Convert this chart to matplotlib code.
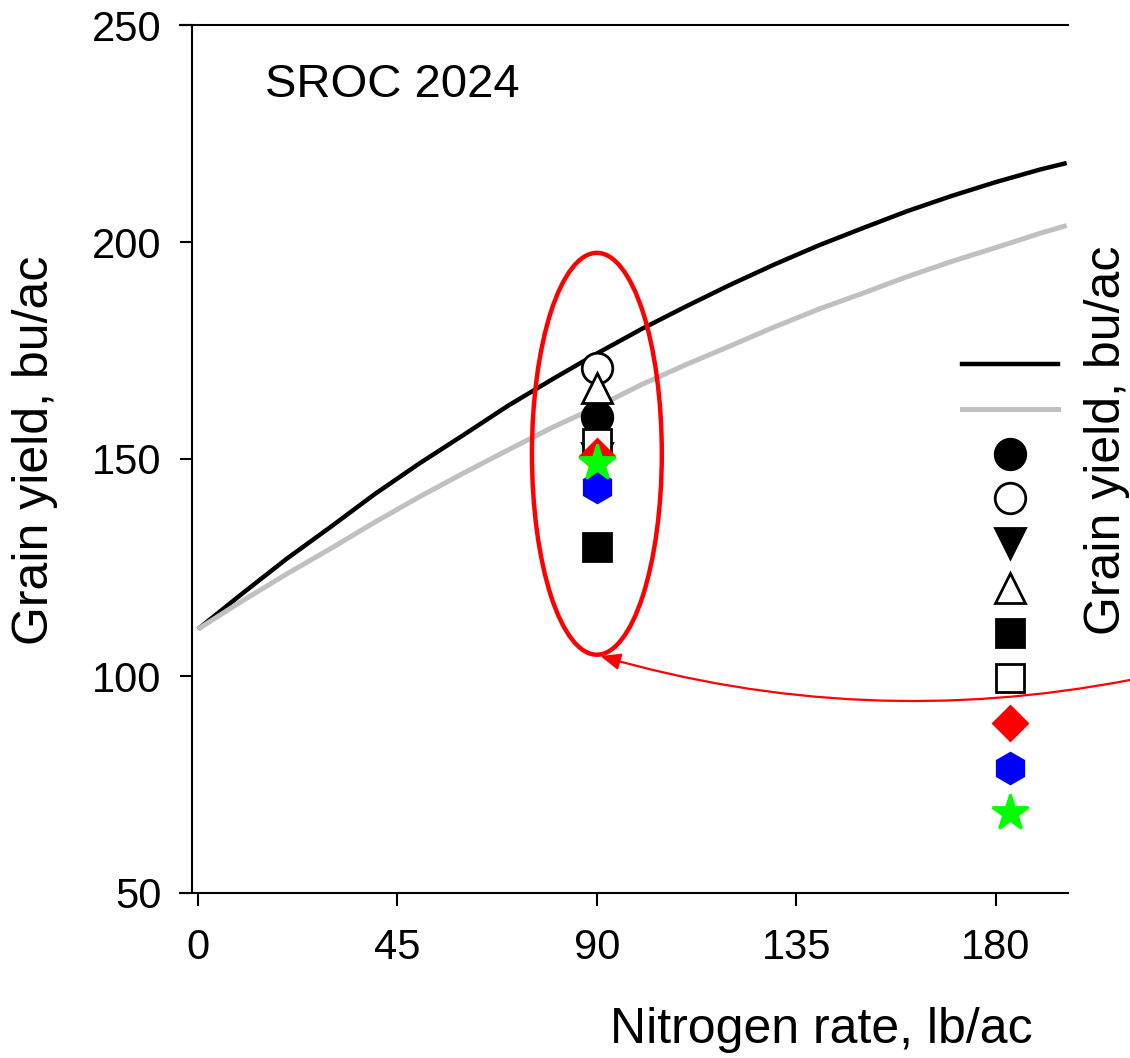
import matplotlib
matplotlib.use("Agg")
import matplotlib.pyplot as plt
from matplotlib.lines import Line2D
from matplotlib.patches import Ellipse

plt.rcParams['font.family'] = ['Liberation Sans', 'DejaVu Sans']

# --- Data ---
n_rate = [0, 10, 20, 30, 40, 50, 60, 70, 80, 90, 100, 110, 120, 130, 140, 150, 160, 170, 180, 190, 196]
yield_black = [110.8, 119.0, 127.0, 134.4, 142.0, 149.0, 155.6, 162.3, 168.4, 174.3, 179.9, 185.1,
               190.1, 194.8, 199.2, 203.2, 207.1, 210.6, 213.8, 216.7, 218.2]
yield_gray = [110.8, 117.3, 123.5, 129.4, 135.5, 141.3, 146.8, 152.1, 157.3, 162.0, 167.1, 171.7,
              176.0, 180.4, 184.5, 188.2, 192.0, 195.5, 198.7, 202.0, 203.8]

# treatment means at 90 lb N/ac
trt_n = 90
trt_yield = [159.7, 171.0, 150.2, 166.3, 129.7, 153.7, 150.6, 143.6, 149.0]
trt_marker = ['o', 'o', 'v', '^', 's', 's', 'D', 'h', '*']
trt_face = ['black', 'white', 'black', 'white', 'black', 'white', 'red', 'blue', 'lime']
trt_edge = ['black', 'black', 'black', 'black', 'black', 'black', 'red', 'blue', 'lime']
trt_size = [22, 22, 22, 22, 20, 20, 17, 22, 27]

x_ticks = [0, 45, 90, 135, 180]
y_ticks = [50, 100, 150, 200, 250]

fig = plt.figure(figsize=(11.3, 10.58), dpi=100)
ax = fig.add_axes([192 / 1130, 165 / 1058, 876 / 1130, 868 / 1058])

ax.plot(n_rate, yield_black, color='black', lw=3.2, solid_capstyle='butt')
ax.plot(n_rate, yield_gray, color='#c0c0c0', lw=3.6, solid_capstyle='butt')

handles = [Line2D([], [], color='black', lw=3.2),
           Line2D([], [], color='#c0c0c0', lw=3.6)]
for yv, m, fc, ec, ms in zip(trt_yield, trt_marker, trt_face, trt_edge, trt_size):
    ax.plot([trt_n], [yv], linestyle='none', marker=m, ms=ms, mfc=fc, mec=ec, mew=2)
    handles.append(Line2D([], [], linestyle='none', marker=m, ms=ms, mfc=fc, mec=ec, mew=2))

# red ellipse around the 90 lb cluster
ax.add_patch(Ellipse((90, 151.2), 29.3, 92.6, fill=False, edgecolor='red', lw=3.2, zorder=5))

# curved arrow from the right edge to the ellipse
ax.annotate('', xy=(90.8, 104.6), xycoords='data',
            xytext=(1.0, 378 / 1058), textcoords='figure fraction',
            arrowprops=dict(arrowstyle='-|>,head_length=0.6,head_width=0.25', color='red', lw=1.6,
                            connectionstyle='arc3,rad=-0.12', shrinkA=0, shrinkB=0,
                            mutation_scale=20),
            annotation_clip=False)

ax.set_xlim(-1.35, 196.3)
ax.set_ylim(50, 250)
ax.set_xticks(x_ticks)
ax.set_yticks(y_ticks)
ax.tick_params(axis='both', direction='out', length=9, width=1.5, labelsize=30)
ax.tick_params(axis='x', pad=16)
ax.tick_params(axis='y', pad=13)
for side in ['left', 'bottom', 'top']:
    ax.spines[side].set_linewidth(1.5)
ax.spines['right'].set_visible(False)
ax.spines['bottom'].set_bounds(-4, 196.3)
ax.spines['top'].set_bounds(-4, 196.3)

ax.text(0.083, 0.931, 'SROC 2024', transform=ax.transAxes, fontsize=34, va='center', ha='left')
fig.text(35 / 1130, (1058 - 450) / 1058, 'Grain yield, bu/ac', fontsize=36, rotation=90,
         ha='center', va='center')
fig.text(821 / 1130, (1058 - 1030) / 1058, 'Nitrogen rate, lb/ac', fontsize=36, ha='center', va='center')
fig.text(1107 / 1130, (1058 - 440) / 1058, 'Grain yield, bu/ac', fontsize=36, rotation=90,
         ha='center', va='center')

ax.legend(handles, [''] * len(handles), loc='upper center', frameon=False,
          bbox_to_anchor=(1010 / 1130, (1058 - 352) / 1058), bbox_transform=fig.transFigure,
          fontsize=20, handlelength=3.45, handleheight=1.2, handletextpad=0,
          labelspacing=0.55, borderpad=0, borderaxespad=0)

fig.savefig('out.png', dpi=100)
